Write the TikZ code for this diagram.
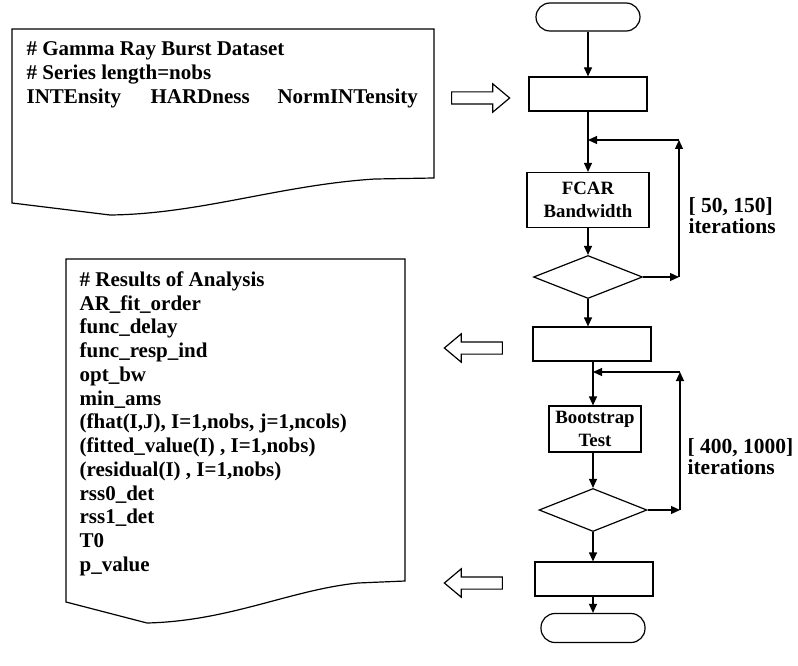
\documentclass[tikz,border=0pt]{standalone}
\usepackage{fontspec}
\setmainfont{Liberation Serif}
\usetikzlibrary{shapes.geometric, shapes.arrows, arrows.meta}

\begin{document}
\begin{tikzpicture}
    [
        x = 1pt, y = -1pt,
        line width = 1.2pt,
        font = \bfseries,
        terminal/.style = {draw, rounded corners = 14pt, minimum width = 104pt, minimum height = 28pt},
        process/.style = {draw, minimum width = 118pt, minimum height = 34pt},
        decision/.style = {draw, diamond, aspect = 2.5, inner sep = 0pt, minimum width = 109pt, minimum height = 43pt},
        hollow/.style = {draw, single arrow, inner xsep = 0pt, inner ysep = 5.5pt, single arrow head extend = 8pt, single arrow tip angle = 80, minimum height = 58pt},
        flow/.style = {-{Triangle[length = 9pt, width = 8pt]}},
        listing/.style = {anchor = north west, inner sep = 0pt, align = left, font = \bfseries\fontsize{21}{24}\selectfont},
        loopnote/.style = {anchor = north west, inner sep = 0pt, align = left, font = \bfseries\fontsize{21.5}{20.5}\selectfont},
        boxtext/.style = {align = center, font = \bfseries\fontsize{18.8}{23}\selectfont}
    ]
        \useasboundingbox (0,0) rectangle (798,666);

        \draw (12,203) -- (12,29) -- (434,29) -- (434,178) -- (375,179)
            .. controls (280,185) and (200,214) .. (110,215) -- cycle;
        \node[listing] (Data1) at (26,41)
            {\# Gamma Ray Burst Dataset\\
             \# Series length=nobs\\
             \makebox[124pt][l]{INTEnsity}\makebox[127pt][l]{HARDness}NormINTensity};

        \draw (66,602) -- (66,259) -- (405,259) -- (405,581) -- (358,583)
            .. controls (290,590) and (230,621) .. (147,623) -- cycle;
        \node[listing, font = \bfseries\fontsize{21}{23.75}\selectfont] (Data2) at (79,271)
            {\# Results of Analysis\\
             AR\_fit\_order\\
             func\_delay\\
             func\_resp\_ind\\
             opt\_bw\\
             min\_ams\\
             (fhat(I,J), I=1,nobs, j=1,ncols)\\
             (fitted\_value(I) , I=1,nobs)\\
             (residual(I) , I=1,nobs)\\
             rss0\_det\\
             rss1\_det\\
             T0\\
             p\_value};

        \node[terminal] (Begin1) at (588,17) {};
        \node[process] (Read1) at (588,94) {};
        \node[process, minimum width = 122pt, minimum height = 55pt, boxtext] (Fcar1) at (588,200) {FCAR\\Bandwidth};
        \node[decision] (Check1) at (588,277) {};
        \node[process] (Write1) at (592,344) {};
        \node[process, minimum width = 92pt, minimum height = 46pt, boxtext] (Boot1) at (595,429) {Bootstrap\\Test};
        \node[decision, minimum width = 108pt] (Check2) at (593,510) {};
        \node[process] (Write2) at (594,579) {};
        \node[terminal, minimum height = 29pt] (Finish1) at (593,628) {};

        \coordinate (Join1) at (588,140);
        \coordinate (Back1) at (679,140);
        \coordinate (Join2) at (593,372);
        \coordinate (Back2) at (680,372);

        \node[hollow] (Feed1) at (477,98) {};
        \node[hollow, shape border rotate = 180] (Out1) at (477,348) {};
        \node[hollow, shape border rotate = 180] (Out2) at (477,583) {};

        \draw[flow] (Begin1) -- (Read1);
        \draw[flow] (Read1) -- (Fcar1);
        \draw[flow] (Fcar1) -- (Check1);
        \draw[flow] (Check1.east) -- (Check1.east -| Back1);
        \draw[flow] (Check1.east -| Back1) -- (Back1);
        \draw[flow] (Back1) -- (Join1);
        \draw[flow] (Check1.south) -- (Check1.south |- Write1.north);
        \draw[flow] (Join2 |- Write1.south) -- (Join2 |- Boot1.north);
        \draw[flow] (Back2) -- (Join2);
        \draw[flow] (Join2 |- Boot1.south) -- (Check2.north);
        \draw[flow] (Check2.east) -- (Check2.east -| Back2);
        \draw[flow] (Check2.east -| Back2) -- (Back2);
        \draw[flow] (Check2.south) -- (Check2.south |- Write2.north);
        \draw[flow] (Check2.south |- Write2.south) -- (Finish1);

        \node[loopnote] (Note1) at (688,197) {[ 50, 150]\\iterations};
        \node[loopnote] (Note2) at (687,438) {[ 400, 1000]\\iterations};
\end{tikzpicture}
\end{document}
